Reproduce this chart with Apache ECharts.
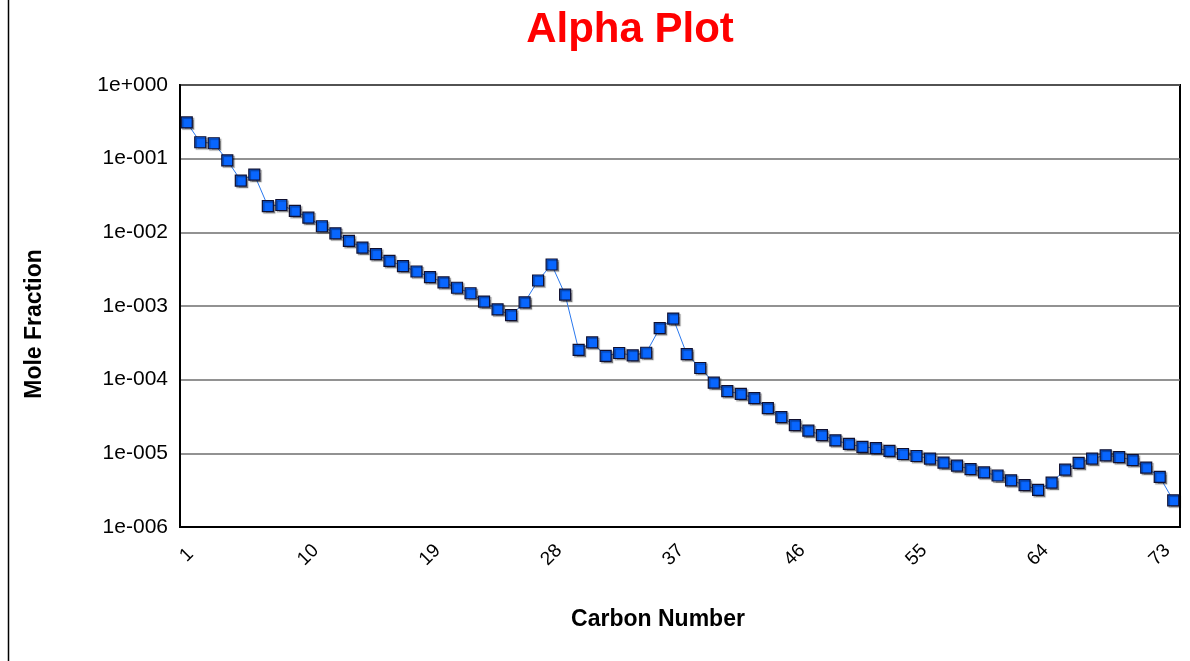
<!DOCTYPE html>
<html>
<head>
<meta charset="utf-8">
<script src="https://cdn.jsdelivr.net/npm/echarts@6/dist/echarts.min.js"></script>
<style>
html,body{margin:0;padding:0;background:#fff;}
#c{width:1190px;height:661px;}
</style>
</head>
<body>
<div id="c"></div>
<script>
const carbonNumbers = [];
for (let i = 1; i <= 74; i++) carbonNumbers.push(String(i));

const moleFraction = [
  0.310, 0.167, 0.162, 0.095, 0.0504, 0.0608, 0.0227, 0.0235, 0.0195, 0.0158,
  0.0121, 0.0097, 0.00765, 0.0062, 0.00505, 0.00411, 0.00347, 0.00294, 0.00247, 0.00209,
  0.00177, 0.00149, 0.00115, 0.00090, 0.00075, 0.00112, 0.00222, 0.00366, 0.00143, 0.000254,
  0.00032, 0.000211, 0.00023, 0.000214, 0.000232, 0.00050, 0.000676, 0.000222, 0.000144, 0.000091,
  0.0000697, 0.0000641, 0.0000561, 0.0000411, 0.000031, 0.0000242, 0.0000203, 0.0000177, 0.000015, 0.0000134,
  0.0000122, 0.0000118, 0.0000108, 0.0000098, 0.0000092, 0.0000085, 0.0000075, 0.0000068, 0.0000061, 0.0000055,
  0.0000050, 0.0000043, 0.0000037, 0.0000032, 0.0000040, 0.0000060, 0.0000074, 0.0000085, 0.0000094, 0.0000089,
  0.0000081, 0.0000064, 0.0000048, 0.0000023
];

const titleText = 'Alpha Plot';
const xTitle = 'Carbon Number';
const yTitle = 'Mole Fraction';

function fmtExp(v) {
  const e = Math.round(Math.log10(v));
  const s = e < 0 ? '-' : '+';
  return '1e' + s + String(Math.abs(e)).padStart(3, '0');
}

const FONT = 'Liberation Sans, Arial, sans-serif';
const chart = echarts.init(document.getElementById('c'));
chart.setOption({
  animation: false,
  backgroundColor: '#fff',
  graphic: [
    { type: 'line', shape: { x1: 8.5, y1: 0, x2: 8.5, y2: 661 }, style: { stroke: '#000', lineWidth: 1.5 } },
    { type: 'text', x: 630, y: 30, style: { text: titleText, fill: '#ff0000', font: 'bold 42px ' + FONT, textAlign: 'center', textVerticalAlign: 'middle' } },
    { type: 'text', x: 658, y: 620, style: { text: xTitle, fill: '#000', font: 'bold 23px ' + FONT, textAlign: 'center', textVerticalAlign: 'middle' } },
    { type: 'text', x: 35, y: 324, rotation: Math.PI / 2, style: { text: yTitle, fill: '#000', font: 'bold 23px ' + FONT, textAlign: 'center', textVerticalAlign: 'middle' } }
  ],
  grid: { left: 180, right: 10, top: 85, bottom: 134, show: true, borderColor: '#000', borderWidth: 2, backgroundColor: 'transparent' },
  xAxis: {
    type: 'category', data: carbonNumbers, boundaryGap: true,
    axisLine: { lineStyle: { color: '#000', width: 2 } },
    axisTick: { show: false },
    axisLabel: { interval: 8, rotate: 45, align: 'center', verticalAlign: 'middle', margin: 28, fontSize: 19, color: '#000', fontFamily: FONT },
    splitLine: { show: false }
  },
  yAxis: {
    type: 'log', logBase: 10, min: 1e-6, max: 1,
    axisLine: { show: true, lineStyle: { color: '#000', width: 2 } },
    axisTick: { show: false },
    minorTick: { show: false },
    axisLabel: { formatter: fmtExp, margin: 12, fontSize: 21, color: '#000', fontFamily: FONT },
    splitLine: { show: true, lineStyle: { color: '#6e6e6e', width: 1.5 } }
  },
  series: [{
    type: 'line', data: moleFraction,
    symbol: 'rect', symbolSize: 11, showAllSymbol: true,
    lineStyle: { color: '#2a78ee', width: 1 },
    itemStyle: { color: '#0866ff', borderColor: '#101030', borderWidth: 1.2, shadowColor: 'rgba(0,0,0,0.35)', shadowOffsetX: 1.5, shadowOffsetY: 1.5, shadowBlur: 1 },
    emphasis: { disabled: true }
  }]
});
</script>
</body>
</html>
